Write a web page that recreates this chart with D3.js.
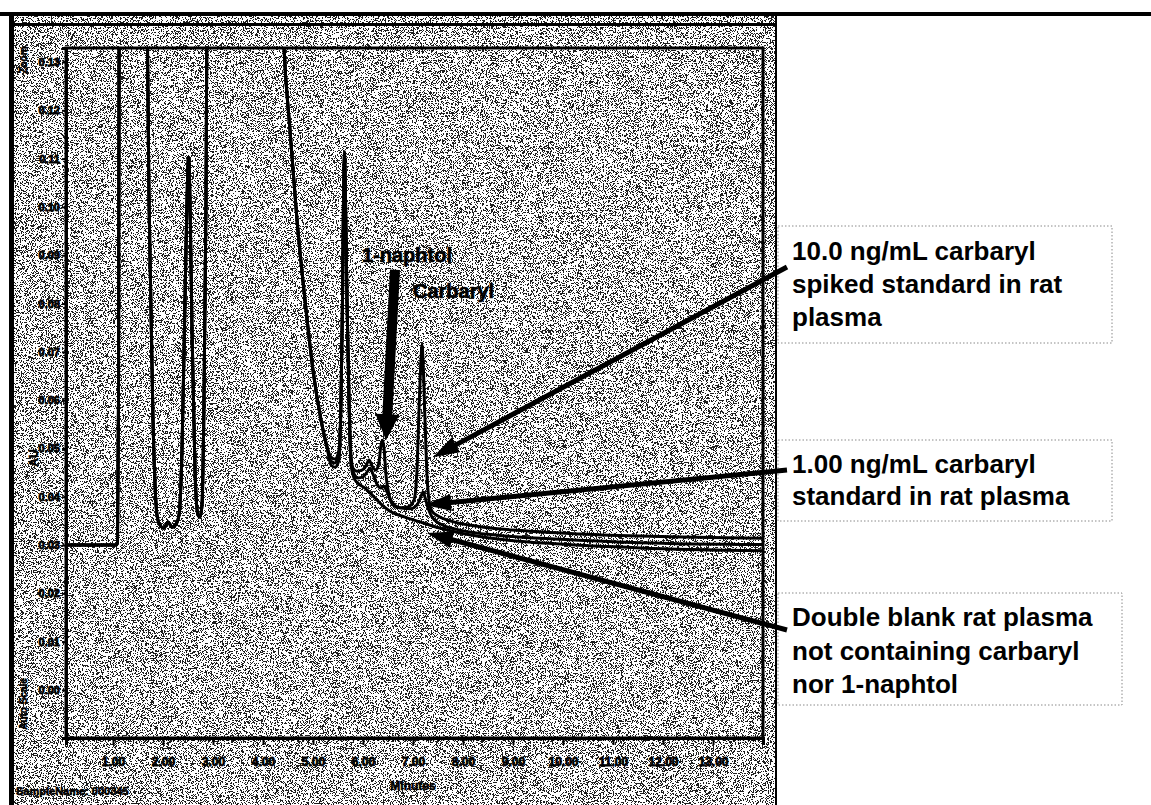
<!DOCTYPE html>
<html><head><meta charset="utf-8">
<script src="https://cdn.jsdelivr.net/npm/d3@7"></script>
<style>
html,body{margin:0;padding:0;background:#fff;}
svg{display:block;}
text{font-family:"Liberation Sans",Arial,sans-serif;font-weight:bold;fill:#000;}
</style></head>
<body>
<script>
// ---------------- data (minutes, AU) ----------------
const xTicks = [1,2,3,4,5,6,7,8,9,10,11,12,13];
const yTicks = [0.00,0.01,0.02,0.03,0.04,0.05,0.06,0.07,0.08,0.09,0.10,0.11,0.12,0.13];
const xTitle = "Minutes";
const yTitle = "AU";
const sampleText = "SampleName: 000345";

// part shared by the three injections (overlapping)
const traceCommon = [[0.06,0.0300],[1.06,0.0300],[1.09,0.0304],[1.11,0.0600],[1.13,0.1800],[1.40,0.2300],[1.64,0.1800],
 [1.72,0.1014],[1.80,0.0559],[1.88,0.0362],[1.94,0.0341],[2.02,0.0335],[2.10,0.0348],[2.18,0.0337],[2.26,0.0343],
 [2.32,0.0362],[2.38,0.0497],[2.44,0.0807],[2.48,0.1014],[2.51,0.1103],[2.54,0.1014],[2.58,0.0745],[2.64,0.0455],
 [2.70,0.0362],[2.74,0.0358],[2.78,0.0383],[2.82,0.0600],[2.86,0.1014],[2.90,0.1800],[3.50,0.4000],[4.30,0.1700],
 [4.42,0.1329],[4.54,0.1159],[4.68,0.0973],[4.84,0.0807],[5.00,0.0662],[5.16,0.0559],[5.28,0.0503]];
// 10.0 ng/mL spiked standard
const traceSpiked = [[5.36,0.0482],[5.44,0.0478],[5.52,0.0497],[5.56,0.0600],[5.59,0.0807],[5.61,0.1014],[5.63,0.1114],
 [5.65,0.1014],[5.68,0.0807],[5.72,0.0600],[5.76,0.0486],[5.80,0.0459],[5.88,0.0453],[5.98,0.0455],[6.06,0.0464],
 [6.12,0.0476],[6.18,0.0464],[6.26,0.0455],[6.32,0.0472],[6.36,0.0507],[6.39,0.0517],[6.42,0.0501],[6.46,0.0445],
 [6.52,0.0404],[6.60,0.0383],[6.74,0.0377],[6.90,0.0379],[7.02,0.0393],[7.08,0.0455],[7.12,0.0580],[7.16,0.0683],
 [7.18,0.0714],[7.20,0.0683],[7.24,0.0559],[7.28,0.0445],[7.32,0.0393],[7.38,0.0370],[7.50,0.0360],[7.74,0.0350],
 [8.34,0.0338],[9.14,0.0330],[10.34,0.0323],[11.74,0.0318],[14.00,0.0314]];
// 1.00 ng/mL standard
const traceLow = [[5.36,0.0474],[5.44,0.0470],[5.52,0.0486],[5.56,0.0600],[5.59,0.0807],[5.61,0.1014],[5.63,0.1107],
 [5.65,0.1014],[5.68,0.0807],[5.72,0.0600],[5.76,0.0476],[5.82,0.0447],[5.90,0.0439],[6.00,0.0441],[6.08,0.0451],
 [6.14,0.0459],[6.20,0.0447],[6.28,0.0426],[6.36,0.0418],[6.42,0.0422],[6.48,0.0410],[6.58,0.0389],[6.74,0.0377],
 [6.94,0.0375],[7.08,0.0383],[7.16,0.0401],[7.20,0.0410],[7.24,0.0399],[7.30,0.0377],[7.38,0.0358],[7.54,0.0344],
 [7.94,0.0331],[8.74,0.0320],[9.94,0.0312],[11.54,0.0305],[14.00,0.0301]];
// double blank
const traceBlank = [[5.36,0.0466],[5.44,0.0461],[5.52,0.0476],[5.56,0.0600],[5.59,0.0807],[5.61,0.1014],[5.63,0.1101],
 [5.65,0.1014],[5.68,0.0807],[5.72,0.0600],[5.76,0.0466],[5.82,0.0439],[5.90,0.0428],[6.04,0.0418],[6.18,0.0404],
 [6.34,0.0387],[6.54,0.0370],[6.84,0.0358],[7.14,0.0348],[7.44,0.0338],[7.94,0.0325],[8.74,0.0312],[9.94,0.0302],
 [11.54,0.0294],[14.00,0.0288]];

const peakLabels = [{text:"1-naphtol", t:5.98, v:0.0886},{text:"Carbaryl", t:7.00, v:0.0811}];
const naphtolArrow = {from:[6.64,0.0870], to:[6.46,0.0517]};
const legendNotes = [
  {lines:["10.0 ng/mL carbaryl","spiked  standard in rat","plasma"], tip:[7.40,0.0482]},
  {lines:["1.00 ng/mL carbaryl","standard in rat plasma"], tip:[7.24,0.0383]},
  {lines:["Double blank rat plasma","not containing carbaryl","nor 1-naphtol"], tip:[7.28,0.0325]}
];

// ---------------- layout ----------------
const W = 1151, H = 805;
const plot = {l:66, r:763, t:48, b:738};
const boxes = [
  {x:778, y:226, w:334, h:117, base:[260,293,326], arrowFrom:[787,267]},
  {x:778, y:440, w:334, h:81,  base:[473,505],     arrowFrom:[787,470]},
  {x:778, y:593, w:344, h:112, base:[626,660,693], arrowFrom:[787,630]}
];

const svg = d3.select("body").append("svg").attr("width",W).attr("height",H);
const defs = svg.append("defs");
const f = defs.append("filter").attr("id","grain").attr("x",0).attr("y",0).attr("width",1).attr("height",1);
f.append("feTurbulence").attr("type","fractalNoise").attr("baseFrequency","1.4").attr("numOctaves",1).attr("seed",5).attr("result","n");
f.append("feColorMatrix").attr("type","matrix").attr("values","0 0 0 0 0  0 0 0 0 0  0 0 0 0 0  -2.4 0 0 0 1.58");
const ct = f.append("feComponentTransfer");
ct.append("feFuncA").attr("type","discrete").attr("tableValues","0 1");
defs.append("clipPath").attr("id","clip").append("rect")
  .attr("x",plot.l).attr("y",plot.t).attr("width",plot.r-plot.l).attr("height",plot.b-plot.t);

svg.append("rect").attr("width",W).attr("height",H).attr("fill","#fff");
// scanned grey panel
svg.append("rect").attr("x",10).attr("y",14).attr("width",767).attr("height",H-14).attr("fill","#fff");
svg.append("rect").attr("x",10).attr("y",14).attr("width",767).attr("height",H-14).attr("filter","url(#grain)").attr("opacity",0.88);
svg.append("rect").attr("x",0).attr("y",12).attr("width",W).attr("height",4).attr("fill","#000");
svg.append("rect").attr("x",10).attr("y",23).attr("width",767).attr("height",3).attr("fill","#000");
svg.append("rect").attr("x",9).attr("y",12).attr("width",5).attr("height",H-12).attr("fill","#000");
svg.append("rect").attr("x",775).attr("y",12).attr("width",2).attr("height",H-12).attr("fill","#000");

// ---------------- scales ----------------
const x = d3.scaleLinear().domain([0.06,14.0]).range([plot.l,plot.r]);
const y = d3.scaleLinear().domain([-0.00994,0.1329]).range([plot.b,plot.t]);

// frame
svg.append("rect").attr("x",plot.l).attr("y",plot.t).attr("width",plot.r-plot.l).attr("height",plot.b-plot.t)
  .attr("fill","none").attr("stroke","#000").attr("stroke-width",3);

// axes
const minor = d3.range(0.1,14.0,0.1);
svg.append("g").attr("transform",`translate(0,${plot.b})`)
  .call(d3.axisBottom(x).tickValues(minor).tickSize(3).tickFormat(""))
  .call(g=>g.select(".domain").remove())
  .call(g=>g.selectAll("line").attr("stroke-width",1.5));
const gx = svg.append("g").attr("transform",`translate(0,${plot.b})`)
  .call(d3.axisBottom(x).tickValues(xTicks).tickSize(7).tickPadding(12).tickFormat(d3.format(".2f")));
gx.select(".domain").attr("stroke-width",3);
gx.selectAll("line").attr("stroke-width",2);
gx.selectAll("text").attr("font-size",12).attr("font-weight","bold").attr("font-family","Liberation Sans, Arial, sans-serif")
  .attr("stroke","#000").attr("stroke-width",0.8);

const gy = svg.append("g").attr("transform",`translate(${plot.l},0)`)
  .call(d3.axisLeft(y).tickValues(yTicks).tickSize(4).tickPadding(2).tickFormat(d3.format(".2f")));
gy.select(".domain").attr("stroke-width",3);
gy.selectAll("line").attr("stroke-width",2);
gy.selectAll("text").attr("font-size",11).attr("font-weight","bold").attr("font-family","Liberation Sans, Arial, sans-serif")
  .attr("stroke","#000").attr("stroke-width",0.8);

svg.append("text").attr("x",x(7.0)).attr("y",790).attr("text-anchor","middle").attr("font-size",12).attr("stroke","#000").attr("stroke-width",0.6).text(xTitle);
svg.append("text").attr("transform",`translate(38,${y(0.048)}) rotate(-90)`).attr("text-anchor","middle").attr("font-size",12).attr("stroke","#000").attr("stroke-width",0.6).text(yTitle);
svg.append("text").attr("transform",`translate(27,60) rotate(-90)`).attr("text-anchor","middle").attr("font-size",10).attr("stroke","#000").attr("stroke-width",0.5).text("Zoom");
svg.append("text").attr("transform",`translate(27,704) rotate(-90)`).attr("text-anchor","middle").attr("font-size",10).attr("stroke","#000").attr("stroke-width",0.5).text("Auto  Scale");
svg.append("text").attr("x",16).attr("y",795).attr("font-size",11).attr("stroke","#000").attr("stroke-width",0.6).text(sampleText);

// ---------------- traces ----------------
const line = d3.line().x(d=>x(d[0])).y(d=>y(d[1])).curve(d3.curveMonotoneX);
const gl = svg.append("g").attr("clip-path","url(#clip)");
[traceBlank, traceLow, traceSpiked].forEach(s=>{
  gl.append("path").datum(traceCommon.concat(s)).attr("d",line)
    .attr("fill","none").attr("stroke","#000").attr("stroke-width",3).attr("stroke-linejoin","round");
});

// ---------------- annotations ----------------
function arrow(x1,y1,x2,y2,sw,hw,hl){
  const dx=x2-x1, dy=y2-y1, L=Math.hypot(dx,dy), ux=dx/L, uy=dy/L, px=-uy, py=ux;
  const bx=x2-ux*hl, by=y2-uy*hl;
  const p=[[x1+px*sw/2,y1+py*sw/2],[bx+px*sw/2,by+py*sw/2],[bx+px*hw/2,by+py*hw/2],[x2,y2],
           [bx-px*hw/2,by-py*hw/2],[bx-px*sw/2,by-py*sw/2],[x1-px*sw/2,y1-py*sw/2]];
  return "M"+p.map(q=>q.join(",")).join("L")+"Z";
}
peakLabels.forEach(p=>{
  svg.append("text").attr("x",x(p.t)).attr("y",y(p.v)).attr("font-size",20).attr("stroke","#000").attr("stroke-width",0.6).text(p.text);
});
svg.append("path").attr("d",arrow(x(naphtolArrow.from[0]),y(naphtolArrow.from[1]),x(naphtolArrow.to[0]),y(naphtolArrow.to[1]),10,24,26)).attr("fill","#000");

legendNotes.forEach((n,i)=>{
  const b = boxes[i];
  svg.append("rect").attr("x",b.x).attr("y",b.y).attr("width",b.w).attr("height",b.h)
    .attr("fill","#fff").attr("stroke","#8a8a8a").attr("stroke-width",1).attr("stroke-dasharray","1.5,2");
  n.lines.forEach((t,k)=>{
    svg.append("text").attr("x",792).attr("y",b.base[k]).attr("font-size",26).text(t);
  });
  svg.append("path").attr("d",arrow(b.arrowFrom[0],b.arrowFrom[1],x(n.tip[0]),y(n.tip[1]),5,17,26)).attr("fill","#000");
});
</script>
</body></html>
